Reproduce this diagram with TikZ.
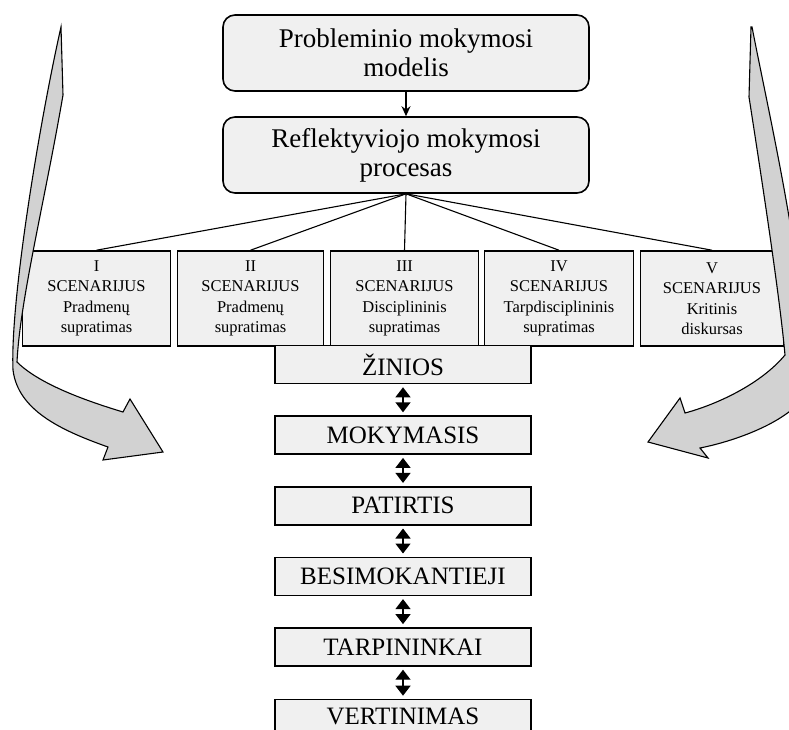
\documentclass[tikz,border=0pt]{standalone}
\usepackage{fontspec}
\setmainfont{Liberation Serif}
\usetikzlibrary{positioning, arrows.meta}

\begin{document}
\begin{tikzpicture}[x=1pt, y=-1pt,
					node distance=31pt,
					topbox/.style={draw, line width=1.6pt, rounded corners=12pt, fill=gray!12,
						minimum width=366pt, minimum height=76pt, inner sep=0pt, align=center,
						font=\fontsize{27}{29}\selectfont},
					scenbox/.style={draw, line width=1.6pt, fill=gray!12, minimum height=95pt,
						inner sep=0pt, align=center, font=\fontsize{16.5}{20.5}\selectfont},
					levelbox/.style={draw, line width=1.6pt, fill=gray!12, minimum width=256pt,
						minimum height=38pt, inner sep=0pt, font=\fontsize{25}{28}\selectfont},
					link/.style={-, line width=1.1pt},
					downarrow/.style={-{Stealth[length=10pt, width=9pt]}, line width=1.4pt},
					dbl/.style={{Triangle[length=10pt, width=15pt]}-{Triangle[length=10pt, width=15pt]},
						line width=1.4pt, shorten <=3pt, shorten >=3pt},
					bigarrow/.style={draw, line width=1.1pt, fill=gray!35, line join=miter}]

	\useasboundingbox (0,0) rectangle (789,729);
	\clip (0,0) rectangle (789,729);

	% model and process
	\node[topbox] (prob) at (406,53)  {Probleminio mokymosi\\modelis};
	\node[topbox] (refl) at (406,155) {Reflektyviojo mokymosi\\procesas};

	% five scenarios
	\node[scenbox, minimum width=148pt] (s1) at (96.5,298.5)  {I\\SCENARIJUS\\Pradmenų\\supratimas};
	\node[scenbox, minimum width=146pt] (s2) at (250.5,298.5) {II\\SCENARIJUS\\Pradmenų\\supratimas};
	\node[scenbox, minimum width=148pt] (s3) at (404.5,298.5) {III\\SCENARIJUS\\Disciplininis\\supratimas};
	\node[scenbox, minimum width=149pt] (s4) at (559,298.5)   {IV\\SCENARIJUS\\Tarpdisciplininis\\supratimas};
	\node[scenbox, minimum width=143pt] (s5) at (712,298.5)   {V\\SCENARIJUS\\Kritinis\\diskursas};

	% levels
	\node[levelbox] (zin) at (403,364.5)       {ŽINIOS};
	\node[levelbox, below=of zin] (mok)        {MOKYMASIS};
	\node[levelbox, below=of mok] (pat)        {PATIRTIS};
	\node[levelbox, below=of pat] (bes)        {BESIMOKANTIEJI};
	\node[levelbox, below=of bes] (tar)        {TARPININKAI};
	\node[levelbox, below=32pt of tar, minimum height=34pt] (ver) {VERTINIMAS};

	\draw 	(prob) edge [downarrow] (refl)
			(refl.south) edge [link] (s1.north)
			(refl.south) edge [link] (s2.north)
			(refl.south) edge [link] (s3.north)
			(refl.south) edge [link] (s4.north)
			(refl.south) edge [link] (s5.north)
			(zin) edge [dbl] (mok)
			(mok) edge [dbl] (pat)
			(pat) edge [dbl] (bes)
			(bes) edge [dbl] (tar)
			(tar) edge [dbl] (ver)
	;

	% curved side arrows
	\path[bigarrow] (61,27) -- (63,95) .. controls (45,200) and (20,300) .. (17,362)
		.. controls (40,385) and (90,402) .. (123,412)
		-- (130,399) -- (163,452) -- (103,460) -- (108,447)
		.. controls (60,430) and (18,410) .. (13,370)
		.. controls (10,300) and (40,120) .. (61,27) -- cycle;
	\path[bigarrow] (751,27) -- (749,97) .. controls (765,200) and (780,300) .. (785,355)
		.. controls (760,385) and (715,405) .. (685,413)
		-- (680,398) -- (648,442) -- (708,458) -- (700,448)
		.. controls (740,440) and (790,420) .. (805,395)
		.. controls (812,300) and (770,120) .. (752,27) -- cycle;
\end{tikzpicture}
\end{document}
